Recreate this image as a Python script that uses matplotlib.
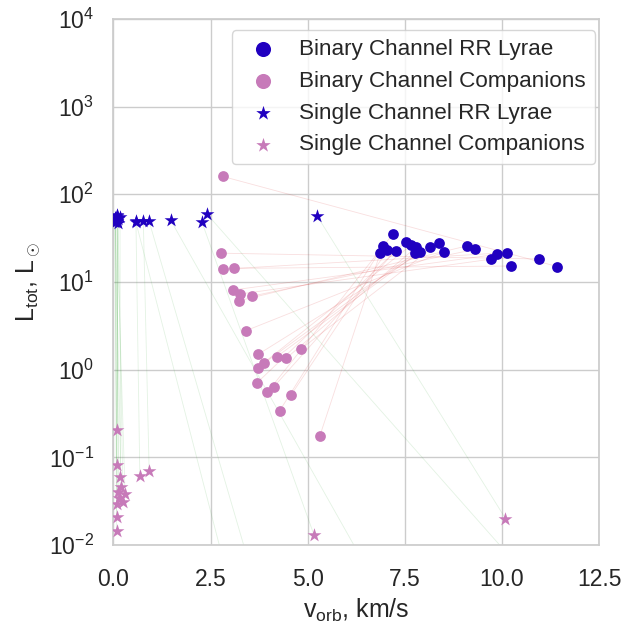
#!/usr/bin/env python3
"""Orbital velocity vs total luminosity for RR Lyrae and their companions."""

import matplotlib

matplotlib.use("Agg")
import matplotlib.pyplot as plt
import seaborn as sns

# Binary channel: RR Lyrae and companions, paired by index
bin_rr_v = [11.42, 10.96, 10.22, 10.13, 9.88, 9.72, 9.31, 9.10, 8.50, 8.38, 8.14,
            7.88, 7.79, 7.75, 7.67, 7.52, 7.26, 7.19, 7.05, 6.94, 6.87]
bin_rr_l = [15.0, 18.3, 15.2, 21.6, 20.7, 18.2, 23.6, 25.8, 22.0, 28.1, 24.9,
            22.2, 24.9, 21.3, 26.5, 28.9, 22.8, 35.1, 23.0, 25.8, 21.6]
bin_comp_v = [2.81, 2.76, 3.10, 2.81, 3.08, 3.27, 3.57, 3.23, 3.40, 4.82, 3.72,
              4.20, 4.45, 3.87, 3.71, 3.70, 4.13, 3.96, 4.58, 4.28, 5.31]
bin_comp_l = [160, 21.3, 14.3, 14.0, 8.1, 7.3, 6.9, 6.1, 2.77, 1.71, 1.49,
              1.40, 1.35, 1.18, 1.05, 0.71, 0.64, 0.55, 0.52, 0.34, 0.174]

# Single channel: RR Lyrae and companions, paired by index
sin_rr_v = [0.08, 0.12, 0.17, 0.05, 0.10, 0.08, 0.05, 0.12, 0.03, 0.06, 0.05,
            0.58, 0.77, 0.58, 0.92, 1.47, 2.28, 2.40, 5.25]
sin_rr_l = [58, 52, 55, 48, 50, 56, 51, 47, 54, 49, 53,
            49, 49, 48, 49, 51, 48, 60, 56]
sin_comp_v = [0.08, 0.08, 0.18, 0.20, 0.12, 0.30, 0.15, 0.25, 0.10, 0.08, 0.08,
              0.68, 0.92, 2.90, 3.55, 6.57, 5.16, 10.54, 10.09]
sin_comp_l = [0.205, 0.082, 0.060, 0.046, 0.040, 0.038, 0.034, 0.031, 0.029, 0.021, 0.0146,
              0.062, 0.070, 0.005, 0.005, 0.005, 0.0131, 0.005, 0.020]

RR_COLOR = "#2000c0"
COMP_COLOR = "#c77ab9"

sns.set_theme(style="whitegrid", font_scale=1.5)
plt.rcParams["font.family"] = ["Liberation Sans", "DejaVu Sans"]
plt.rcParams["mathtext.fontset"] = "custom"
plt.rcParams["mathtext.rm"] = "Liberation Sans"
plt.rcParams["mathtext.it"] = "Liberation Sans:italic"

fig = plt.figure(figsize=(6.3, 6.32), dpi=100)
ax = fig.add_axes([0.180, 0.1377, 0.771, 0.8323])

for v1, l1, v2, l2 in zip(bin_rr_v, bin_rr_l, bin_comp_v, bin_comp_l):
    ax.plot([v1, v2], [l1, l2], color="tab:red", alpha=0.15, lw=0.6, zorder=1)
for v1, l1, v2, l2 in zip(sin_rr_v, sin_rr_l, sin_comp_v, sin_comp_l):
    ax.plot([v1, v2], [l1, l2], color="tab:green", alpha=0.13, lw=0.6, zorder=1)

ax.scatter(bin_rr_v, bin_rr_l, s=60, marker="o", color=RR_COLOR, lw=0,
           label="Binary Channel RR Lyrae", zorder=3)
ax.scatter(bin_comp_v, bin_comp_l, s=60, marker="o", color=COMP_COLOR, lw=0,
           label="Binary Channel Companions", zorder=3)
ax.scatter(sin_rr_v, sin_rr_l, s=110, marker="*", color=RR_COLOR, lw=0,
           label="Single Channel RR Lyrae", zorder=3)
ax.scatter(sin_comp_v, sin_comp_l, s=110, marker="*", color=COMP_COLOR, lw=0,
           label="Single Channel Companions", zorder=3)

ax.set_yscale("log")
ax.set_xlim(0, 12.5)
ax.set_ylim(1e-2, 1e4)
ax.set_xticks([0, 2.5, 5, 7.5, 10, 12.5])
ax.minorticks_off()
ax.tick_params(axis="x", pad=10.5)
ax.tick_params(axis="y", pad=8)
ax.set_xlabel(r"v$_{\rm orb}$, km/s")
ax.set_ylabel(r"L$_{\rm tot}$, L$_\odot$")
leg = ax.legend(loc="upper right", bbox_to_anchor=(0.992, 0.979), borderaxespad=0,
                fontsize=16.2, labelspacing=0.48, handletextpad=0.6)
for handle, size in zip(leg.legend_handles, [118, 118, 120, 120]):
    handle.set_sizes([size])

fig.savefig("out.png", dpi=100)
